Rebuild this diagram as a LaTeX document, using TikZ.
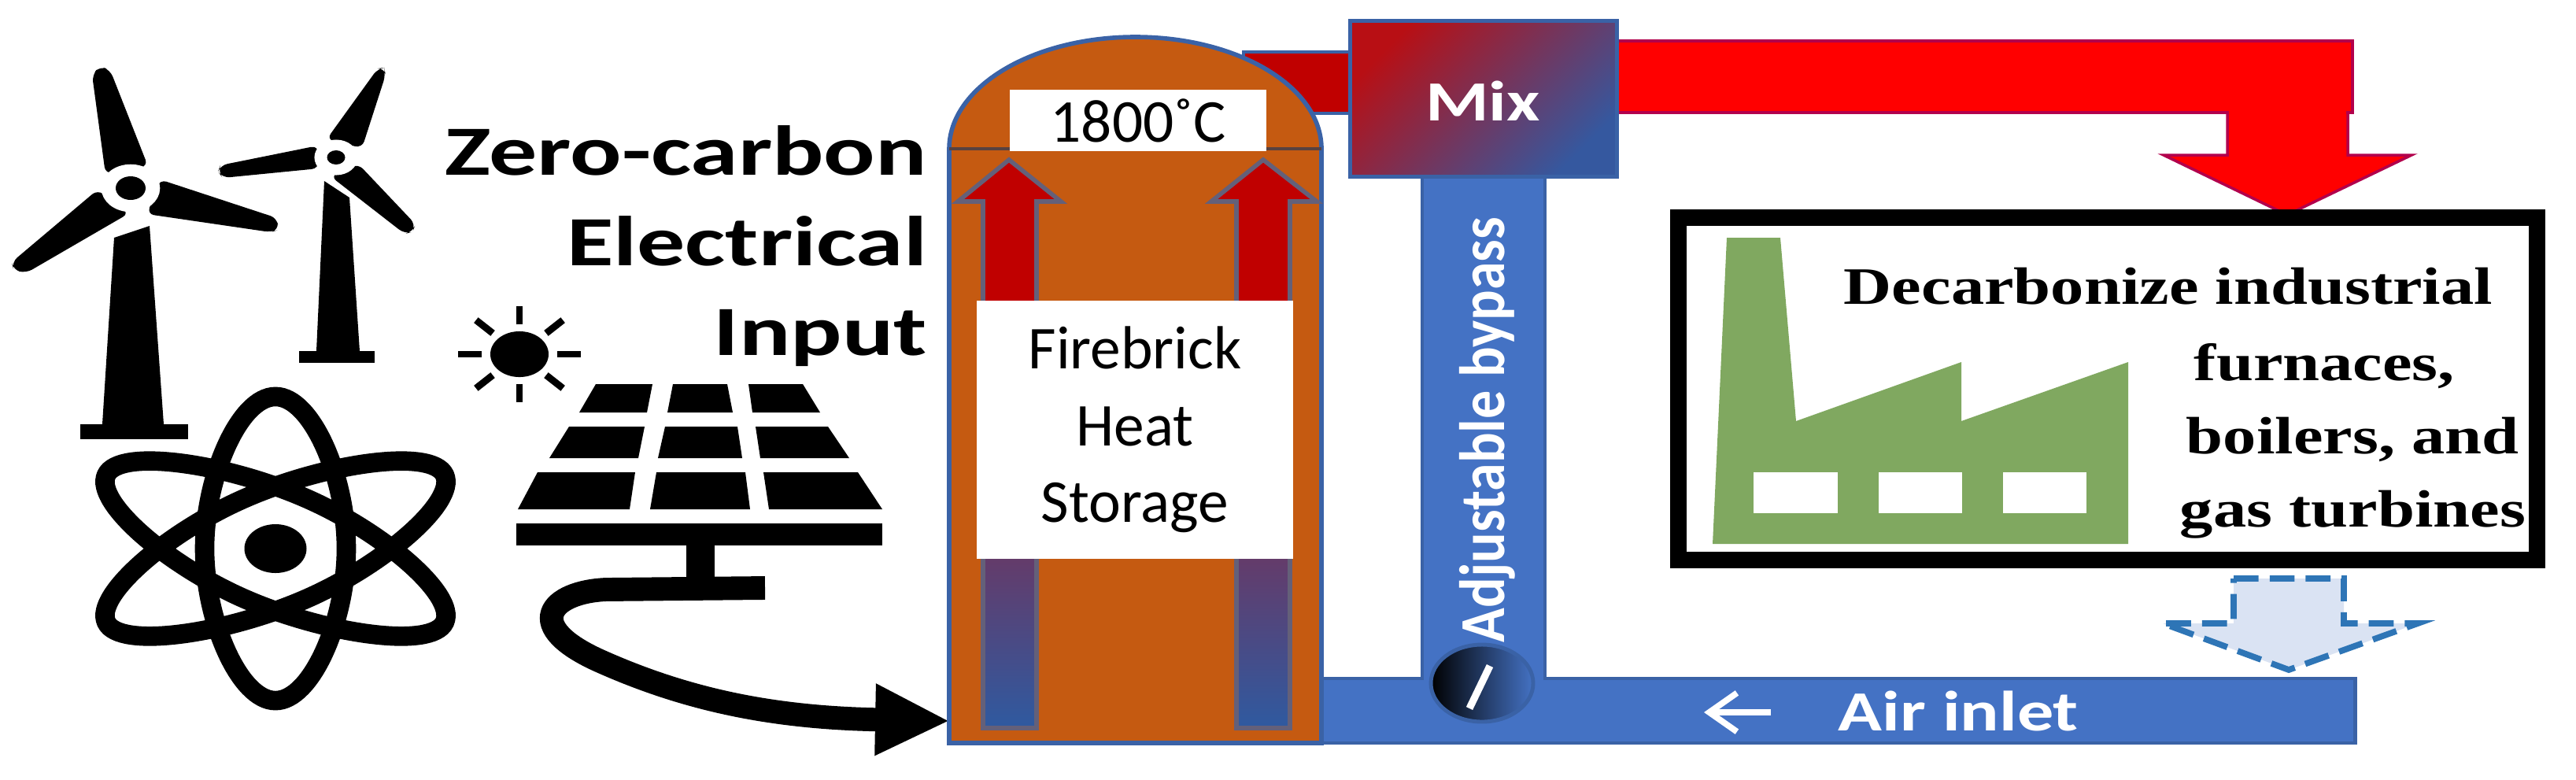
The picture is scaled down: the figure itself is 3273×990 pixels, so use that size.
\documentclass[tikz,border=0pt]{standalone}
\usepackage{fontspec}
\setmainfont{Carlito}
\newfontfamily\boxfont{Liberation Serif}
\usetikzlibrary{arrows.meta, positioning, shapes.geometric}

\definecolor{brickfill}{HTML}{C55A11}
\definecolor{pipefill}{HTML}{4472C4}
\definecolor{pipeline}{HTML}{3A62A6}
\definecolor{hotred}{HTML}{C00000}
\definecolor{coldblue}{HTML}{2F5AA0}
\definecolor{midpurple}{HTML}{663A68}
\definecolor{mixhot}{HTML}{B80F14}
\definecolor{mixcold}{HTML}{35589F}
\definecolor{factorygreen}{HTML}{80A860}
\definecolor{exhaustfill}{HTML}{DAE3F3}
\definecolor{exhaustline}{HTML}{2E75B6}

\tikzset{
    pipe/.style={draw=pipeline, line width=1.4pt, fill=pipefill},
    riser/.style={draw=pipeline!70!brickfill, line width=1.6pt, fill=hotred},
    riserlow/.style={draw=pipeline!70!brickfill, line width=1.6pt, top color=midpurple, bottom color=coldblue},
    blade/.style={fill=black, rounded corners=2.5pt},
    whitebox/.style={fill=white, inner sep=0pt, align=center, font=\fontsize{22}{27.7}\selectfont},
    widetext/.style={xscale=1.28, transform shape, inner sep=0pt},
    boxline/.style={xscale=1.265, transform shape, inner sep=0pt, font=\boxfont\bfseries\fontsize{19}{23}\selectfont},
    pipelabel/.style={widetext, text=white, font=\bfseries\fontsize{20.5}{24}\selectfont}
}

\begin{document}
\begin{tikzpicture}[x=0.01cm, y=-0.01cm]
    \useasboundingbox (0,0) rectangle (3273,990);

    % ============================================================
    % WIND TURBINES
    % ============================================================
    \path[blade] (117,95) -- (127,84) -- (140,89) -- (188,211) -- (134,221) -- cycle;
    \path[blade] (203,228) -- (352,277) -- (354,292) -- (344,295) -- (187,272) -- cycle;
    \path[blade] (124,241) -- (164,271) -- (33,347) -- (17,343) -- (15,333) -- cycle;
    \fill (145,302) -- (190,287) -- (208,539) -- (130,539) -- cycle;
    \fill (102,539) rectangle (239,558);
    \draw[white, line width=3pt] (166,239) ellipse (32 and 25);
    \fill (166,239) ellipse (19 and 15);

    \path[blade] (480,87) -- (488,86) -- (490,95) -- (460,188) -- (415,177) -- cycle;
    \path[blade] (404,185) -- (405,214) -- (283,226) -- (277,218) -- (280,210) -- cycle;
    \path[blade] (420,224) -- (455,208) -- (528,285) -- (524,295) -- (514,297) -- cycle;
    \fill (412,230) -- (444,251) -- (457,446) -- (402,446) -- cycle;
    \fill (380,446) rectangle (476,461);
    \draw[white, line width=2pt] (427,200) ellipse (24 and 19);
    \fill (427,200) ellipse (11.5 and 9);

    % ============================================================
    % ATOM
    % ============================================================
    \begin{scope}[shift={(350,697)}, yscale=0.785]
        \foreach \ang in {0,60,120} {
            \draw[line width=7pt, rotate=\ang]
                (0,-246) .. controls (46,-246) and (90,-115) .. (90,0)
                .. controls (90,115) and (46,246) .. (0,246)
                .. controls (-46,246) and (-90,115) .. (-90,0)
                .. controls (-90,-115) and (-46,-246) .. (0,-246) -- cycle;
        }
        \fill (0,0) circle (39.5);
    \end{scope}

    % ============================================================
    % SUN
    % ============================================================
    \begin{scope}[shift={(660,450)}, yscale=0.785]
        \fill (0,0) circle (37);
        \foreach \ang in {0,45,...,315} {
            \draw[line width=2.5pt] (\ang:48) -- (\ang:78);
        }
    \end{scope}

    % ============================================================
    % SOLAR PANEL
    % ============================================================
    \fill (757,488) -- (829,488) -- (822,524) -- (736,524) -- cycle;
    \fill (855,488) -- (924,488) -- (931,524) -- (848,524) -- cycle;
    \fill (951,488) -- (1020,488) -- (1042,524) -- (956,524) -- cycle;
    \fill (723,542) -- (819,542) -- (811,582) -- (698,582) -- cycle;
    \fill (845,542) -- (937,542) -- (943,582) -- (836,582) -- cycle;
    \fill (960,542) -- (1052,542) -- (1079,582) -- (966,582) -- cycle;
    \fill (683,600) -- (807,600) -- (800,647) -- (658,647) -- cycle;
    \fill (834,600) -- (947,600) -- (953,647) -- (826,647) -- cycle;
    \fill (970,600) -- (1090,600) -- (1121,647) -- (977,647) -- cycle;
    \fill (656,665) rectangle (1121,693);
    \fill (872,693) rectangle (908,735);

    % Power cable into the storage
    \coordinate (cablestart) at (972,747);
    \coordinate (vesselin) at (1207,916);
    \draw[line width=8.5pt, -{Triangle[length=27pt,width=24pt]}]
        (cablestart) -- (770,749) .. controls (700,752) and (660,795) .. (765,841)
        .. controls (880,892) and (990,912) .. (vesselin);

    \node[anchor=north east, align=right, inner sep=0pt, xscale=1.36, transform shape,
        font=\bfseries\fontsize{25.5}{32.6}\selectfont] (inputlabel) at (1179,159)
        {Zero-carbon\\Electrical\\Input};

    % ============================================================
    % HOT GAS DUCTS
    % ============================================================
    \draw[draw=pipeline, line width=1pt, fill=hotred]
        (1580,66) -- (1730,66) -- (1730,144) -- (1580,144) -- cycle;
    \draw[draw=red!70!blue, line width=1pt, fill=red]
        (2830,140) -- (2983,140) -- (2983,197) -- (3064,197)
        -- (2906,273) -- (2749,197) -- (2830,197) -- cycle;
    \draw[draw=red!70!blue, line width=1pt, fill=red]
        (2040,52) -- (2989,52) -- (2989,143) -- (2040,143) -- cycle;
    \fill[red] (2832,130) rectangle (2981,160);

    % ============================================================
    % BYPASS AND AIR INLET
    % ============================================================
    \draw[pipe] (1807,210) rectangle (1963,880);
    \draw[pipe] (1670,862) -- (1807,862) -- (1963,862) -- (2992,862) -- (2992,944) -- (1670,944) -- cycle;
    \fill[pipefill] (1809,850) rectangle (1961,880);

    \node[rotate=90, yscale=1.13, transform shape, text=white, inner sep=0pt,
        font=\bfseries\fontsize{20.5}{24}\selectfont]
        (bypasslabel) at (1890,546) {Adjustable bypass};

    \node[pipelabel, anchor=base west] (airlabel) at (2335,928) {Air inlet};
    \coordinate (airtail) at (2250,905);
    \coordinate (airhead) at (2165,905);
    \draw[white, line width=2.2pt, -{Straight Barb[length=10pt,width=14pt]}] (airtail) -- (airhead);

    % ============================================================
    % FIREBRICK VESSEL
    % ============================================================
    \draw[draw=pipeline, line width=1.6pt, fill=brickfill]
        (1206,944) -- (1206,189) arc[start angle=180, end angle=360, x radius=236.5, y radius=142]
        -- (1679,944) -- cycle;
    \draw[draw=pipeline!50!brickfill!70!black, line width=1.4pt] (1206,189) -- (1679,189);

    \draw[riser] (1249,400) -- (1249,256) -- (1217,256) -- (1282,203) -- (1348,256) -- (1317,256) -- (1317,400) -- cycle;
    \draw[riser] (1571,400) -- (1571,256) -- (1539,256) -- (1605,203) -- (1673,256) -- (1639,256) -- (1639,400) -- cycle;
    \draw[riserlow] (1249,700) rectangle (1317,925);
    \draw[riserlow] (1571,700) rectangle (1639,925);

    \node[whitebox, minimum width=3.26cm, minimum height=0.77cm] (tempbox) at (1446,153) {1800˚C};
    \node[whitebox, minimum width=4.02cm, minimum height=3.28cm] (brickbox) at (1442,546)
        {Firebrick\\Heat\\Storage};

    % ============================================================
    % MIX CHAMBER
    % ============================================================
    \node[draw=pipeline, line width=1.4pt, top color=mixhot, bottom color=mixcold, shading angle=45,
        minimum width=3.38cm, minimum height=1.97cm, inner sep=0pt] (mix) at (1885,125.5) {};
    \node[pipelabel] (mixlabel) at (1884,128) {Mix};

    % ============================================================
    % VALVE
    % ============================================================
    \draw[draw=pipeline, line width=1.4pt, left color=black, middle color=black!45!pipefill, right color=pipefill]
        (1883,868) ellipse (65 and 49);
    \draw[white, line width=2.6pt] (1867,900) -- (1893,846);

    % ============================================================
    % INDUSTRIAL LOAD
    % ============================================================
    \node[draw, line width=6pt, fill=white, minimum width=10.9cm, minimum height=4.35cm] (loadbox) at (2678,494) {};

    \fill[factorygreen] (2194,302) -- (2262,302) -- (2282,535) -- (2492,460) -- (2492,535)
        -- (2704,460) -- (2704,691) -- (2176,691) -- cycle;
    \fill[white] (2228,600) rectangle (2335,652);
    \fill[white] (2387,600) rectangle (2493,652);
    \fill[white] (2545,600) rectangle (2651,652);

    \node[boxline, anchor=base west] (loadone) at (2342,386) {Decarbonize industrial};
    \node[boxline, anchor=base west] (loadtwo) at (2787,483) {furnaces,};
    \node[boxline, anchor=base west] (loadthree) at (2777,576) {boilers, and};
    \node[boxline, anchor=base west] (loadfour) at (2769,669) {gas turbines};

    % ============================================================
    % EXHAUST
    % ============================================================
    \draw[draw=exhaustline, line width=2.2pt, fill=exhaustfill, dash pattern=on 9pt off 4pt]
        (2838,735) -- (2978,735) -- (2978,792) -- (3072,792) -- (2908,851) -- (2748,792) -- (2838,792) -- cycle;

\end{tikzpicture}
\end{document}
